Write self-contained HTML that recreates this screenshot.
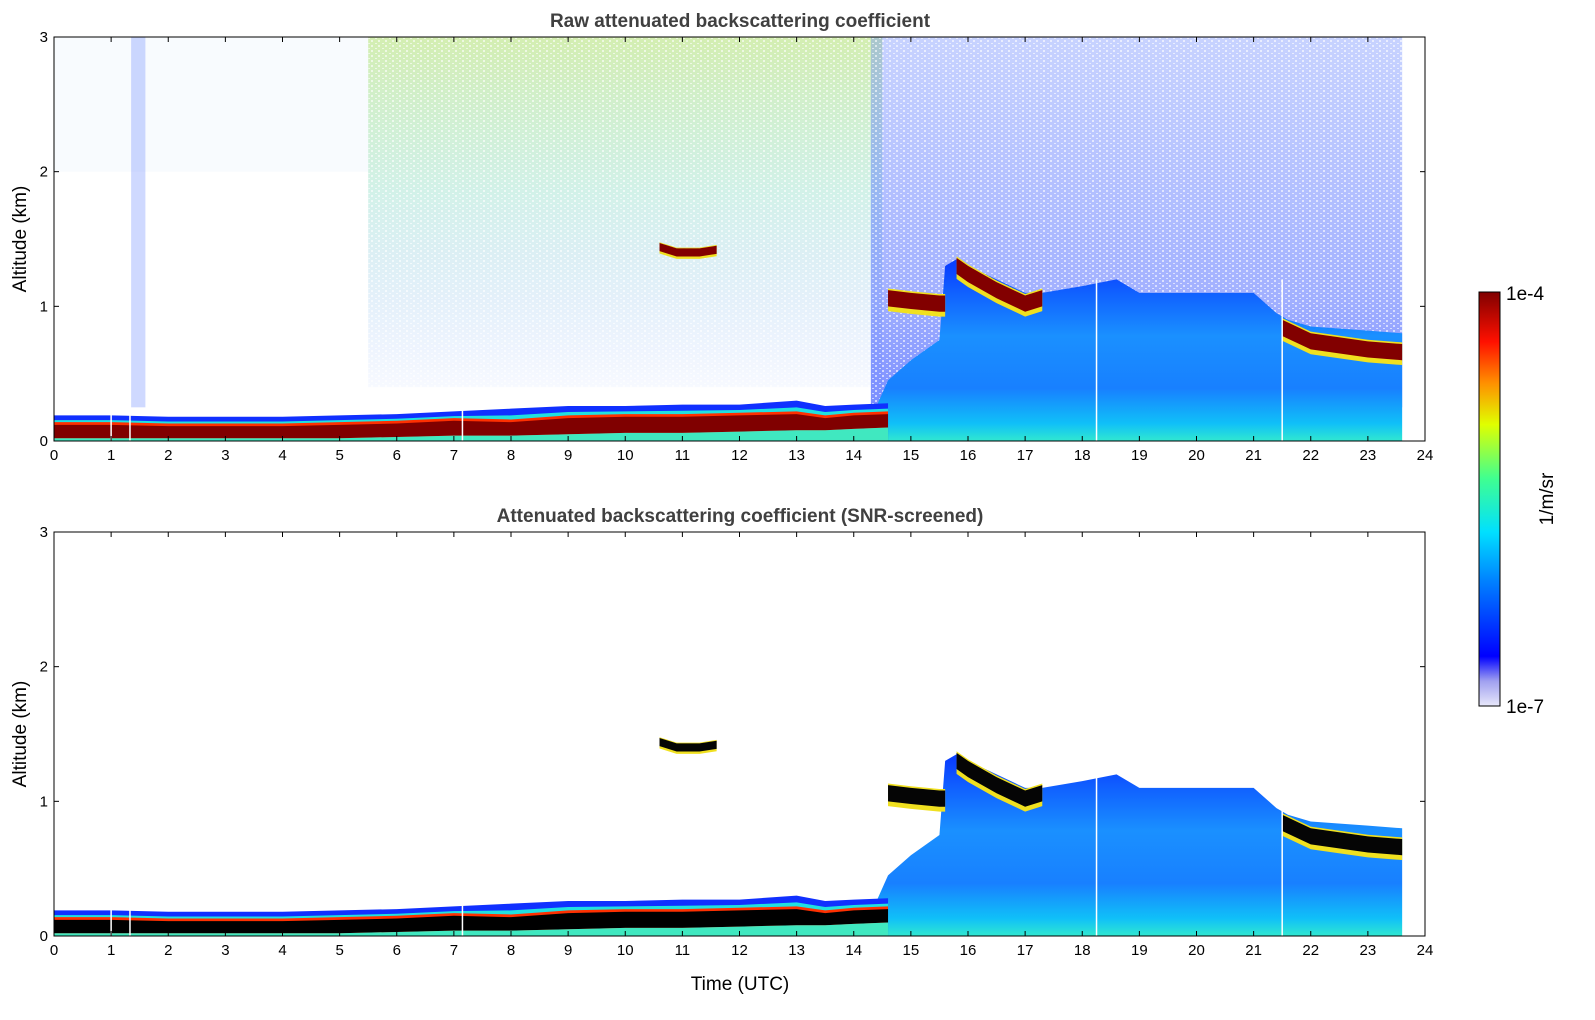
<!DOCTYPE html>
<html><head><meta charset="utf-8"><style>
html,body{margin:0;padding:0;background:#fff;}
svg{display:block;font-family:"Liberation Sans","DejaVu Sans",sans-serif;}
</style></head><body>
<svg id="chart" width="1595" height="1020" viewBox="0 0 1595 1020" xmlns="http://www.w3.org/2000/svg">
<defs>
<linearGradient id="jet" x1="0" y1="1" x2="0" y2="0">
<stop offset="0" stop-color="#e8e8fa"/><stop offset="0.06" stop-color="#a0a0f0"/>
<stop offset="0.12" stop-color="#0000ff"/><stop offset="0.3" stop-color="#0080ff"/>
<stop offset="0.42" stop-color="#00e0ff"/><stop offset="0.55" stop-color="#40ff90"/>
<stop offset="0.68" stop-color="#e0ff00"/><stop offset="0.78" stop-color="#ff9000"/>
<stop offset="0.88" stop-color="#ff1000"/><stop offset="1" stop-color="#800000"/>
</linearGradient>
<linearGradient id="dayFade" x1="0" y1="0" x2="0" y2="1">
<stop offset="0" stop-color="#b0e070" stop-opacity="0.55"/>
<stop offset="0.45" stop-color="#80d8c0" stop-opacity="0.35"/>
<stop offset="1" stop-color="#6090ff" stop-opacity="0.05"/>
</linearGradient>
<linearGradient id="nightFade" x1="0" y1="0" x2="0" y2="1">
<stop offset="0" stop-color="#6080ff" stop-opacity="0.35"/>
<stop offset="0.7" stop-color="#3050ff" stop-opacity="0.45"/>
<stop offset="1" stop-color="#2040ff" stop-opacity="0.6"/>
</linearGradient>
<pattern id="speck" width="7" height="5" patternUnits="userSpaceOnUse">
<rect x="0" y="0" width="2" height="2" fill="#fff" opacity="0.6"/>
<rect x="4" y="3" width="2" height="1" fill="#fff" opacity="0.6"/>
</pattern>
</defs>
<g id="panels"></g>
<g>
<rect x="1479" y="292" width="21" height="414" fill="url(#jet)" stroke="#000" stroke-width="1"/>
<text x="1506" y="300" font-size="19">1e-4</text>
<text x="1506" y="713" font-size="19">1e-7</text>
<text transform="translate(1553,499) rotate(-90)" font-size="19" text-anchor="middle">1/m/sr</text>
</g>
<text x="740" y="990" font-size="19" text-anchor="middle">Time (UTC)</text>
</svg>
<script>
// ---- data ----
const hourTicks = [0,1,2,3,4,5,6,7,8,9,10,11,12,13,14,15,16,17,18,19,20,21,22,23,24];
const altTicks = [0,1,2,3];
const blTimes = [0,1,2,3,4,5,6,7,8,9,10,11,12,13,13.5,14,14.6];
const blTop   = [0.19,0.19,0.18,0.18,0.18,0.19,0.2,0.22,0.24,0.26,0.26,0.27,0.27,0.3,0.26,0.27,0.28];
const blRedTop= [0.12,0.12,0.11,0.11,0.11,0.12,0.13,0.15,0.14,0.17,0.18,0.18,0.19,0.2,0.17,0.19,0.2];
const blRedBot= [0.02,0.02,0.02,0.02,0.02,0.02,0.03,0.04,0.04,0.05,0.06,0.06,0.07,0.08,0.08,0.09,0.1];
const hazeTimes = [14.4,14.6,15,15.5,15.6,15.8,16,16.5,17,17.3,18,18.6,19,20,21,21.4,21.6,22,23,23.6];
const hazeTop   = [0.26,0.45,0.6,0.75,1.3,1.35,1.3,1.2,1.1,1.1,1.15,1.2,1.1,1.1,1.1,0.95,0.9,0.85,0.82,0.8];
const cloud1T = [14.6,15,15.5,15.6];
const cloud1H = [1.12,1.1,1.08,1.08];
const cloud2T = [15.8,16,16.5,17,17.3];
const cloud2H = [1.36,1.3,1.18,1.08,1.12];
const cloud3T = [21.5,22,23,23.6];
const cloud3H = [0.9,0.8,0.74,0.72];
const aerosolT = [10.6,10.9,11.3,11.6];
const aerosolH = [1.47,1.43,1.43,1.45];
const titles = ["Raw attenuated backscattering coefficient","Attenuated backscattering coefficient (SNR-screened)"];

// ---- layout ----
const X0=54, X1=1425, NS="http://www.w3.org/2000/svg";
const panelsTop=[37,532], PH=404;
const xs = t => X0 + t/24*(X1-X0);
function mk(tag, attrs, parent){const e=document.createElementNS(NS,tag);for(const k in attrs)e.setAttribute(k,attrs[k]);parent.appendChild(e);return e;}
function band(T, top, bot, ys){ let p=T.map((t,i)=>xs(t)+','+ys(top[i])); for(let i=T.length-1;i>=0;i--)p.push(xs(T[i])+','+ys(bot[i])); return p.join(' ');}
const root=document.getElementById('panels');
panelsTop.forEach((y0,pi)=>{
  const ys = a => y0+PH - a/3*PH;
  const raw = pi===0;
  const g=mk('g',{},root);
  
  
  if(raw){
    const sp1=mk('rect',{x:xs(5.5),y:ys(3),width:xs(14.5)-xs(5.5),height:ys(0.4)-ys(3),fill:'url(#dayFade)'},g);
    
    
    const sp3=mk('rect',{x:xs(0),y:ys(3),width:xs(5.5)-xs(0),height:ys(2)-ys(3),fill:'#90c0f0',opacity:0.06},g);
    
    
    const sp0=mk('rect',{x:xs(1.35),y:ys(3),width:xs(1.6)-xs(1.35),height:ys(0.25)-ys(3),fill:'#6080ff',opacity:0.3},g);
    
    
    const sp2=mk('rect',{x:xs(14.3),y:ys(3),width:xs(23.6)-xs(14.3),height:ys(0.25)-ys(3),fill:'url(#nightFade)'},g);
    
    
    mk('rect',{x:xs(5.5),y:ys(3),width:xs(23.6)-xs(5.5),height:ys(0.25)-ys(3),fill:'url(#speck)'},g);
  }
  // haze
  const gid='haze'+pi;
  const lg=mk('linearGradient',{id:gid,x1:0,y1:ys(0),x2:0,y2:ys(1.3),gradientUnits:'userSpaceOnUse'},g);
  [['0','#30e8d0'],['0.1','#10c0f8'],['0.3','#1880ff'],['0.6','#1a90ff'],['0.85','#1060ff'],['1','#0a40ff']].forEach(s=>mk('stop',{offset:s[0],'stop-color':s[1]},lg));
  const hz=mk('polygon',{points:band(hazeTimes,hazeTop,hazeTimes.map(()=>0),ys),fill:'url(#'+gid+')'},g);
  
  
  // boundary layer
  const blb=mk('polygon',{points:band(blTimes,blTop,blTimes.map(()=>0),ys),fill:'#1030ff'},g);
  
  
  const blc=mk('polygon',{points:band(blTimes,blTop.map((v,i)=>(v+blRedTop[i])/2),blTimes.map(()=>0),ys),fill:'#20e0e0'},g);
  
  
  const bly=mk('polygon',{points:band(blTimes,blRedTop.map(v=>v+0.02),blTimes.map(()=>0),ys),fill:'#ff3000'},g);
  
  
  const blr=mk('polygon',{points:band(blTimes,blRedTop,blRedBot,ys),fill:raw?'#800000':'#000'},g);
  
  
  const gr=mk('polygon',{points:band(blTimes,blRedBot,blTimes.map(()=>0),ys),fill:'#40e8c0'},g);
  
  
  // clouds
  [[cloud1T,cloud1H],[cloud2T,cloud2H],[cloud3T,cloud3H],[aerosolT,aerosolH]].forEach((c,ci)=>{
    const th = ci===3?0.06:0.12;
    const y2=mk('polygon',{points:band(c[0],c[1].map(v=>v+th*0.1),c[1].map(v=>v-th*1.3),ys),fill:'#f0e020'},g);
    
    
    const cl=mk('polygon',{points:band(c[0],c[1],c[1].map(v=>v-th),ys),fill:raw?'#820000':'#050505'},g);
    
    
  });
  // white gaps
  [1.0,1.33,7.15,18.25,21.5].forEach(t=>{
    const l=mk('line',{x1:xs(t),x2:xs(t),y1:ys(0),y2:ys(t>15?1.2:0.28),stroke:'#fff','stroke-width':1.5},g);
    
    
  });
  // axes
  const fr=mk('rect',{x:X0,y:y0,width:X1-X0,height:PH,fill:'none',stroke:'#000','stroke-width':1},g);
  
  
  hourTicks.forEach(h=>{
    mk('line',{x1:xs(h),x2:xs(h),y1:y0+PH,y2:y0+PH-5,stroke:'#000'},g);
    mk('line',{x1:xs(h),x2:xs(h),y1:y0,y2:y0+5,stroke:'#000'},g);
    const t=mk('text',{x:xs(h),y:y0+PH+19,'font-size':15,'text-anchor':'middle'},g);
    t.textContent=h;
    
    
  });
  altTicks.forEach(a=>{
    mk('line',{x1:X0,x2:X0+5,y1:ys(a),y2:ys(a),stroke:'#000'},g);
    mk('line',{x1:X1,x2:X1-5,y1:ys(a),y2:ys(a),stroke:'#000'},g);
    const t=mk('text',{x:X0-6,y:ys(a)+5,'font-size':15,'text-anchor':'end'},g);
    t.textContent=a;
    
    
  });
  const yt=mk('text',{transform:`translate(26,${y0+PH/2}) rotate(-90)`,'font-size':19,'text-anchor':'middle'},g);
  yt.textContent='Altitude (km)';
  
  
  const tt=mk('text',{x:740,y:y0-10,'font-size':19,'font-weight':'bold','text-anchor':'middle',fill:'#404040'},g);
  tt.textContent=titles[pi];
  
  
});
</script>
</body></html>
